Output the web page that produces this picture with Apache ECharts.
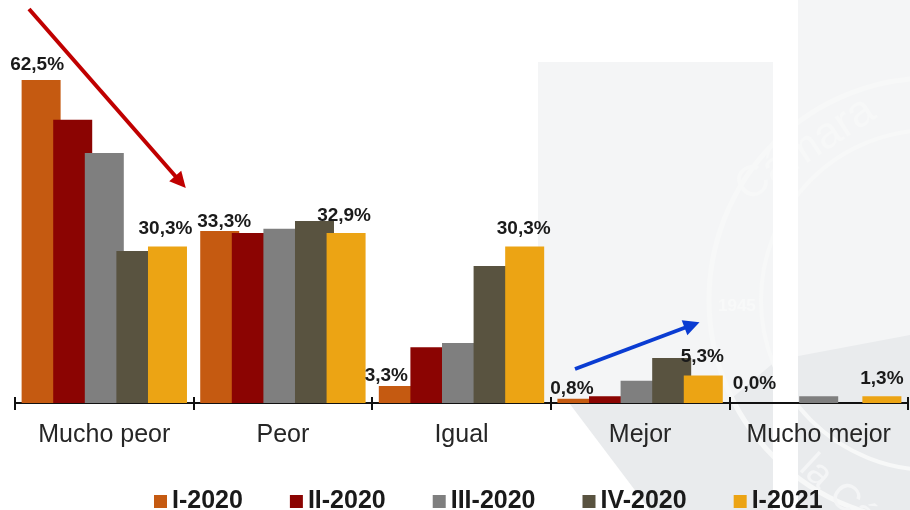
<!DOCTYPE html>
<html>
<head>
<meta charset="utf-8">
<title>Chart</title>
<style>
html, body { margin: 0; padding: 0; background: #fff; }
#main { width: 910px; height: 510px; }
</style>
<script src="https://cdn.jsdelivr.net/npm/echarts@6/dist/echarts.min.js"></script>
</head>
<body>
<div id="main"></div>
<script>
var categories = ['Mucho peor', 'Peor', 'Igual', 'Mejor', 'Mucho mejor'];
var i2020 = [62.5, 33.3, 3.3, 0.8, 0.0];
var ii2020 = [54.8, 32.9, 10.8, 1.3, 0];
var iii2020 = [48.4, 33.7, 11.6, 4.3, 1.3];
var iv2020 = [29.4, 35.2, 26.5, 8.7, 0];
var i2021 = [30.3, 32.9, 30.3, 5.3, 1.3];

// label nudges, the originals were placed by hand
var offsetI2020 = [[-4, -1], [4.5, 5], [-12, 4], [-5, 4], [-1, -5]];
var offsetI2021 = [[-2, -3.5], [-2, -3], [-1, -3.5], [-1, -4], [0, -3]];

var myChart = echarts.init(document.getElementById('main'));

function barSeries(name, values, color, offsets) {
    return {
        name: name,
        type: 'bar',
        barWidth: 39,
        barGap: '-19%',
        itemStyle: { color: color },
        data: values.map(function (v, i) {
            if (!offsets) return v;
            return {
                value: v,
                label: {
                    show: true,
                    position: 'top',
                    offset: offsets[i],
                    formatter: function (p) {
                        return p.value.toFixed(1).replace('.', ',') + '%';
                    },
                    fontFamily: 'Liberation Sans',
                    fontWeight: 'bold',
                    fontSize: 19,
                    color: '#1a1a1a'
                }
            };
        })
    };
}

var series = [
    barSeries('I-2020', i2020, '#C55A11', offsetI2020),
    barSeries('II-2020', ii2020, '#8B0402', null),
    barSeries('III-2020', iii2020, '#7F7F7F', null),
    barSeries('IV-2020', iv2020, '#595340', null),
    barSeries('I-2021', i2021, '#ECA414', offsetI2021)
];

// the two trend arrows
series[4].markLine = {
    silent: true,
    animation: false,
    symbol: ['none', 'triangle'],
    symbolSize: [16, 16],
    label: { show: false },
    data: [
        [{ x: 29, y: 9, lineStyle: { color: '#C00000', width: 4, type: 'solid' } }, { x: 180.5, y: 182 }],
        [{ x: 575, y: 369, lineStyle: { color: '#0A3CD2', width: 4, type: 'solid' } }, { x: 692, y: 325 }]
    ]
};

var option = {
    backgroundColor: '#fff',
    animation: false,
    // faint seal behind the chart
    graphic: [
        { type: 'polygon', z: -10, silent: true, shape: { points: [[538, 62], [773, 62], [773, 510], [650, 510], [570, 404], [538, 404]] }, style: { fill: '#f4f5f6' } },
        { type: 'rect', z: -10, silent: true, shape: { x: 798, y: 0, width: 112, height: 510 }, style: { fill: '#f4f5f6' } },
        { type: 'polygon', z: -9, silent: true, shape: { points: [[570, 404], [725, 404], [777, 360], [910, 335], [910, 510], [650, 510]] }, style: { fill: '#e9ebed' } },
        { type: 'circle', z: -8, silent: true, shape: { cx: 931, cy: 300, r: 222 }, style: { fill: 'none', stroke: '#f7f8f8', lineWidth: 5 } },
        { type: 'circle', z: -8, silent: true, shape: { cx: 931, cy: 300, r: 170 }, style: { fill: 'none', stroke: '#f7f8f8', lineWidth: 4 } },
        { type: 'text', z: -8, silent: true, x: 728, y: 174, rotation: 0.58, style: { text: 'Cámara', fill: '#f7f8f8', font: '44px "Liberation Sans"' } },
        { type: 'text', z: -8, silent: true, x: 718, y: 298, style: { text: '1945', fill: '#f8f9f9', font: 'bold 17px "Liberation Sans"' } },
        { type: 'text', z: -8, silent: true, x: 818, y: 448, rotation: -0.75, style: { text: 'la Cá', fill: '#f4f5f6', font: '38px "Liberation Sans"' } },
        { type: 'rect', z: -7, silent: true, shape: { x: 773, y: 0, width: 25, height: 510 }, style: { fill: '#fff' } }
    ],
    legend: {
        left: 154,
        top: 489,
        padding: 0,
        icon: 'rect',
        itemWidth: 13,
        itemHeight: 13,
        itemGap: 47,
        textStyle: {
            fontFamily: 'Liberation Sans',
            fontWeight: 'bold',
            fontSize: 25,
            color: '#1a1a1a'
        },
        data: ['I-2020', 'II-2020', 'III-2020', 'IV-2020', 'I-2021']
    },
    grid: { left: 15, right: 2, top: 41.25, bottom: 107 },
    xAxis: [
        {
            type: 'category',
            data: categories,
            axisLine: { lineStyle: { color: '#111', width: 2 } },
            axisTick: { show: true, interval: 0, length: 7, lineStyle: { color: '#111', width: 2 } },
            axisLabel: {
                interval: 0,
                fontFamily: 'Liberation Sans',
                fontSize: 25,
                color: '#262626',
                margin: 20
            }
        },
        {
            // second axis only to make the ticks cross the line
            type: 'category',
            position: 'bottom',
            data: categories,
            axisLine: { show: false },
            axisTick: { show: true, interval: 0, inside: true, length: 6, lineStyle: { color: '#111', width: 2 } },
            axisLabel: { show: false }
        }
    ],
    yAxis: { type: 'value', min: 0, max: 70, show: false },
    series: series
};

myChart.setOption(option);
</script>
</body>
</html>
